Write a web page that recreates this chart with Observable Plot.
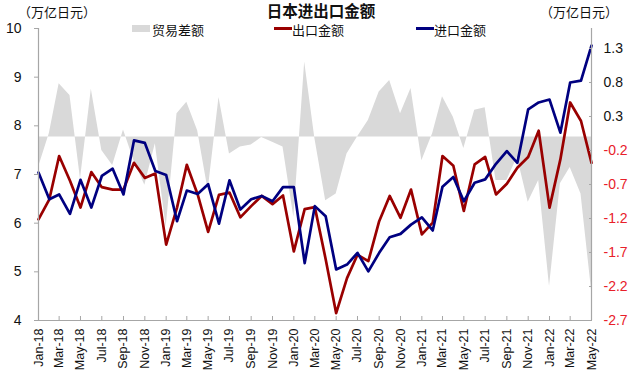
<!DOCTYPE html>
<html><head><meta charset="utf-8">
<script src="https://cdn.jsdelivr.net/npm/d3@7"></script>
<script src="https://cdn.jsdelivr.net/npm/@observablehq/plot@0.6"></script>
<style>
body{margin:0;background:#fff}
#wrap{position:relative;width:640px;height:381px;overflow:hidden}
.t{position:absolute;white-space:nowrap;font-family:"Noto Sans CJK SC","Noto Sans",sans-serif;color:#111;line-height:1}
.sw{position:absolute}
</style></head><body><div id="wrap"></div>
<script>
const startMonth = "2018-01";
const endMonth = "2022-05";
const exportVals = [6.08,6.49,7.38,6.87,6.32,7.05,6.74,6.69,6.69,7.24,6.93,7.02,5.56,6.32,7.20,6.59,5.82,6.58,6.63,6.12,6.35,6.56,6.39,6.57,5.42,6.29,6.33,5.26,4.15,4.87,5.35,5.22,6.04,6.56,6.11,6.69,5.77,6.01,7.38,7.18,6.25,7.21,7.36,6.59,6.81,7.14,7.36,7.90,6.32,7.31,8.48,8.10,7.24];
const importVals = [7.04,6.49,6.59,6.19,6.89,6.32,6.97,7.12,6.59,7.70,7.65,7.07,6.99,6.04,6.67,6.60,6.80,5.99,6.88,6.28,6.49,6.56,6.45,6.74,6.74,5.18,6.35,6.14,5.05,5.15,5.39,5.01,5.39,5.71,5.78,5.97,6.12,5.85,6.75,6.95,6.45,6.83,6.90,7.22,7.48,7.24,8.34,8.48,8.54,7.86,8.89,8.93,9.65];
const balanceVals = [-0.45,0.05,0.78,0.61,-0.62,0.70,-0.20,-0.42,0.10,-0.35,-0.71,-0.10,-1.33,0.34,0.51,0.09,-0.79,0.58,-0.25,-0.15,-0.12,-0.01,-0.08,-0.15,-1.18,1.10,-0.02,-0.94,-0.84,-0.25,0.00,0.24,0.66,0.83,0.34,0.71,-0.35,0.05,0.59,0.29,-0.17,0.39,0.43,-0.64,-0.64,-0.30,-0.96,-0.64,-2.20,-0.69,-0.45,-0.84,-2.25];
const leftTicks = [4,5,6,7,8,9,10];
const rightTicks = [-2.7,-2.2,-1.7,-1.2,-0.7,-0.2,0.3,0.8,1.3];
const leftDomain = [4,10];
const rightDomain = [-2.7,1.594];
const title = "日本进出口金额";
const unitLabel = "（万亿日元）";
const legendNames = ["贸易差额","出口金额","进口金额"];
const colors = {balance:"#d9d9d9", exp:"#990000", imp:"#000080", axis:"#a6a6a6", neg:"#e8202a"};

const parse = d3.utcParse("%Y-%m");
const dates = d3.utcMonth.range(parse(startMonth), d3.utcMonth.offset(parse(endMonth),1));
const data = dates.map((d,i)=>({date:d, exp:exportVals[i], imp:importVals[i], bal:balanceVals[i]}));
const toL = v => leftDomain[0] + (v - rightDomain[0])*(leftDomain[1]-leftDomain[0])/(rightDomain[1]-rightDomain[0]);
const fromL = v => rightDomain[0] + (v - leftDomain[0])*(rightDomain[1]-rightDomain[0])/(leftDomain[1]-leftDomain[0]);
const fmtR = v => { const r = Math.round(v*10)/10; return (r<0?"-":"") + Math.abs(r).toFixed(1); };
const xTicks = dates.filter((d,i)=>i%2===0);
const zeroL = toL(0);
const font = "'Liberation Sans', Arial, sans-serif";

const chart = Plot.plot({
  width:640, height:381,
  marginLeft:38, marginRight:49, marginTop:28, marginBottom:61,
  style:{fontFamily:font, fontSize:"14px", color:"#111", background:"#fff"},
  x:{type:"utc", domain:[dates[0], dates[dates.length-1]]},
  y:{domain:leftDomain},
  marks:[
    Plot.areaY(data,{x:"date", y1:()=>zeroL, y2:d=>toL(d.bal), fill:colors.balance}),
    Plot.line(data,{x:"date", y:"exp", stroke:colors.exp, strokeWidth:2.7}),
    Plot.line(data,{x:"date", y:"imp", stroke:colors.imp, strokeWidth:2.7}),
    Plot.ruleX([dates[0]],{stroke:colors.axis, strokeWidth:1.2}),
    Plot.ruleX([dates[dates.length-1]],{stroke:colors.axis, strokeWidth:1.2}),
    Plot.ruleY([leftDomain[0]],{stroke:colors.axis, strokeWidth:1.2}),
    Plot.axisY(leftTicks,{anchor:"left", tickSize:4, tickPadding:13, stroke:colors.axis, fill:"#111", fontSize:14, tickFormat:d=>String(d)}),
    Plot.axisY(rightTicks.filter(v=>v>=0).map(toL),{anchor:"right", tickSize:3, dx:-3, tickPadding:12, stroke:colors.axis, fill:"#111", fontSize:14, tickFormat:d=>fmtR(fromL(d))}),
    Plot.axisY(rightTicks.filter(v=>v<0).map(toL),{anchor:"right", tickSize:3, dx:-3, tickPadding:12, stroke:colors.axis, fill:colors.neg, fontSize:14, tickFormat:d=>fmtR(fromL(d))}),
    Plot.axisX(xTicks,{tickSize:4, dy:-4, tickPadding:8, tickRotate:-90, stroke:colors.axis, fill:"#111", fontSize:12.5, tickFormat:d3.utcFormat("%b-%y")})
  ]
});
const wrap = document.getElementById("wrap");
wrap.appendChild(chart);
function addText(txt, left, top, size, weight, anchor){
  const el = document.createElement("div");
  el.className="t"; el.textContent=txt;
  el.style.left=left+"px"; el.style.top=top+"px"; el.style.fontSize=size+"px";
  if(weight) el.style.fontWeight=weight;
  if(anchor==="middle") el.style.transform="translateX(-50%)";
  wrap.appendChild(el);
}
function addSwatch(left, top, w, h, color){
  const el=document.createElement("div"); el.className="sw";
  el.style.left=left+"px"; el.style.top=top+"px"; el.style.width=w+"px"; el.style.height=h+"px"; el.style.background=color;
  wrap.appendChild(el);
}
addText(title, 321, 2.5, 15.5, "bold", "middle");
addText(unitLabel, 18, 5, 13);
addText(unitLabel, 540, 5, 13);
addSwatch(132, 25, 18, 7, colors.balance);
addText(legendNames[0], 152, 22.5, 13);
addSwatch(274, 27, 18, 3, colors.exp);
addText(legendNames[1], 292, 22.5, 13);
addSwatch(416, 27, 18, 3, colors.imp);
addText(legendNames[2], 434, 22.5, 13);
</script></body></html>
